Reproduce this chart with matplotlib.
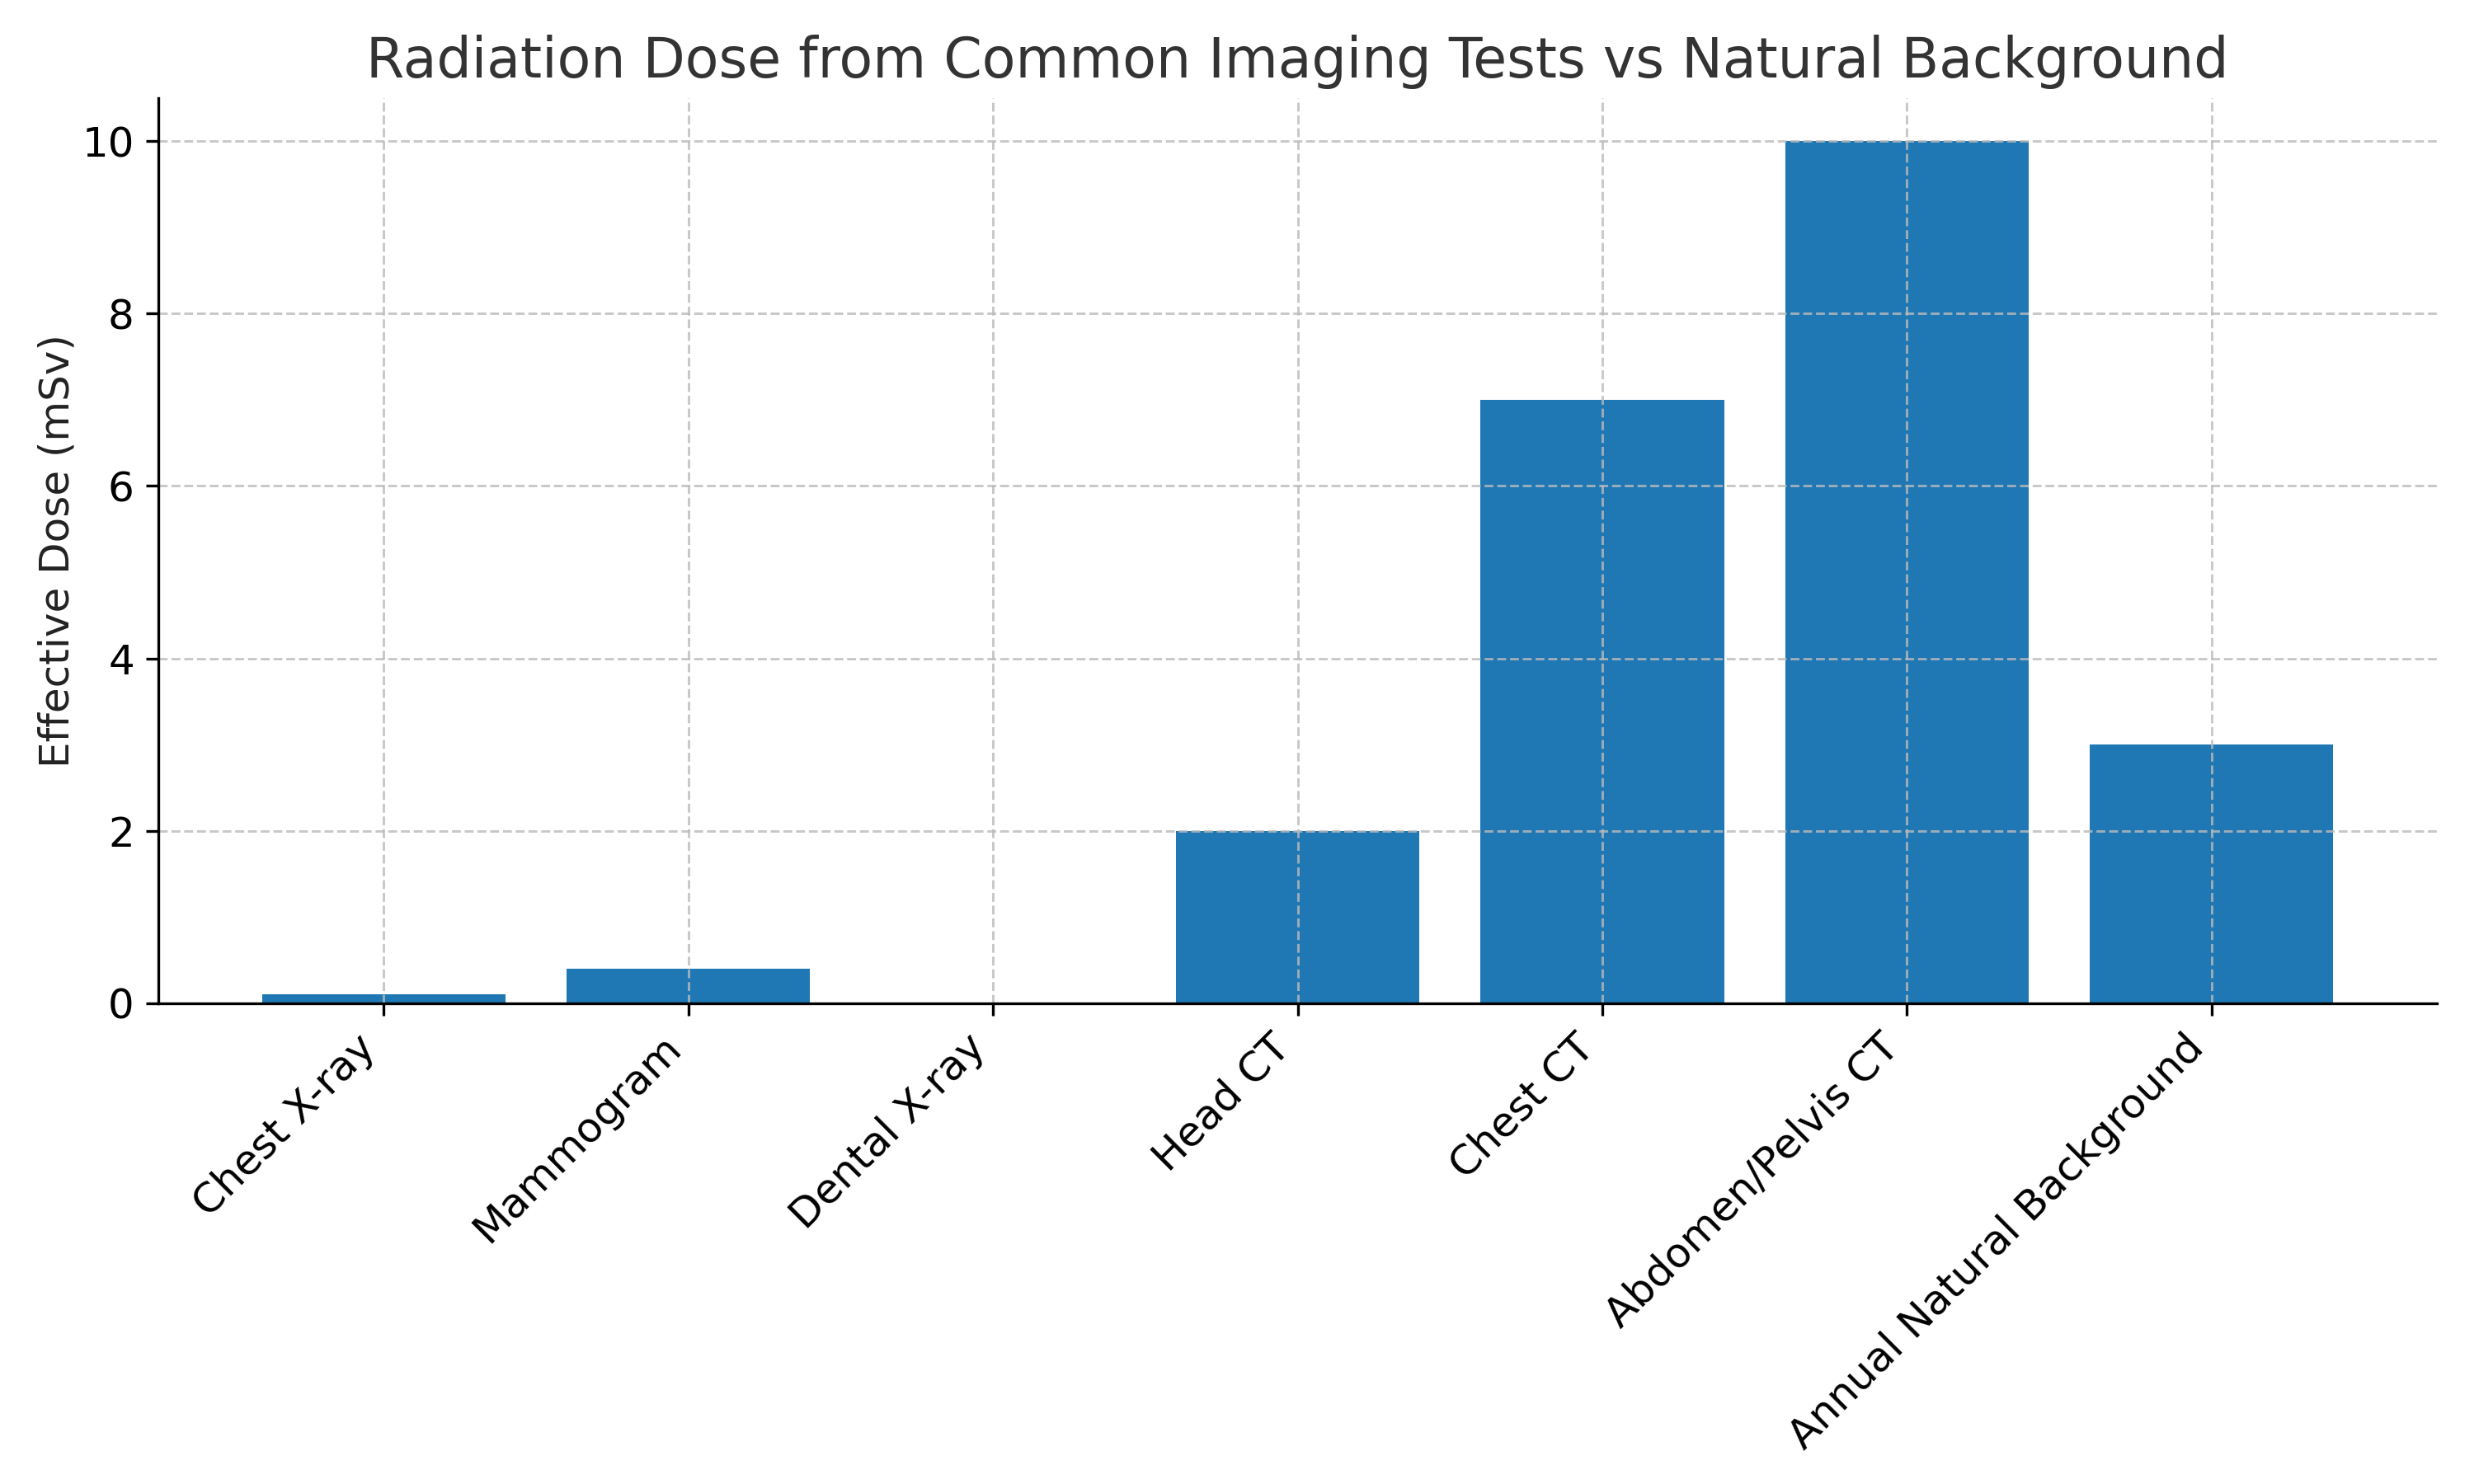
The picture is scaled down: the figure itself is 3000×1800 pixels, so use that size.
import matplotlib
matplotlib.use("Agg")
import matplotlib.pyplot as plt

# Effective dose per imaging test (mSv)
tests = ["Chest X-ray", "Mammogram", "Dental X-ray", "Head CT",
         "Chest CT", "Abdomen/Pelvis CT", "Annual Natural Background"]
doses = [0.1, 0.4, 0.005, 2, 7, 10, 3]

fig, ax = plt.subplots(figsize=(10, 6), dpi=300)
ax.bar(tests, doses, color="#1f77b4", width=0.8)

ax.set_title("Radiation Dose from Common Imaging Tests vs Natural Background",
             fontsize=16, color="#333333")
ax.set_ylabel("Effective Dose (mSv)", fontsize=12, color="#222222", labelpad=1.5)
ax.tick_params(axis="both", labelsize=12)
plt.xticks(rotation=45, ha="right")

ax.grid(True, linestyle="--", color="#bbbbbb", alpha=0.8, linewidth=0.7)
ax.spines["top"].set_visible(False)
ax.spines["right"].set_visible(False)

plt.subplots_adjust(left=0.064, right=0.985, top=0.934, bottom=0.324)
plt.savefig("out.png", dpi=300)
